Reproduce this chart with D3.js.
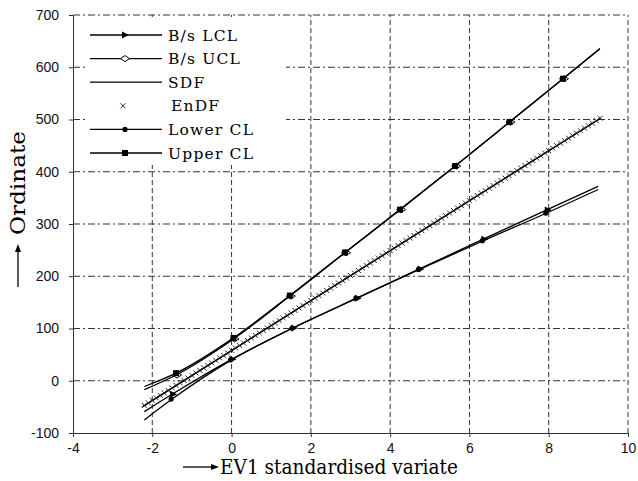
<!DOCTYPE html>
<html><head><meta charset="utf-8">
<script src="https://cdn.jsdelivr.net/npm/d3@7"></script>
<style>body{margin:0;background:#fff}</style>
</head><body>
<svg id="c" width="638" height="481"></svg>
<script>
const xTicks = [-4,-2,0,2,4,6,8,10];
const yTicks = [-100,0,100,200,300,400,500,600,700];

const upperCL  = [[-2.2,-11],[-1.4,14.5],[0.05,82],[1.47,163],[2.86,245.5],[4.25,327.5],[5.64,411],[7.01,495],[8.36,578],[9.29,635]];
const bsUCL    = [[-2.2,-17],[-1.4,11],[0.05,80],[1.47,162],[2.86,245],[4.25,327.5],[5.64,411],[7.01,495],[8.36,578],[9.29,636]];
const sdf      = [[-2.25,-50],[9.3,502]];
const bsLCL    = [[-2.2,-59],[-1.45,-23.5],[0,41],[1.55,101],[3.16,158],[4.74,214],[6.35,271],[7.95,327],[9.25,372]];
const lowerCL  = [[-2.2,-75],[-1.5,-35],[0,40],[1.55,101],[3.16,158],[4.74,213],[6.35,268],[7.95,321],[9.25,366]];
const upperMarkX = [-1.4,0.05,1.47,2.86,4.25,5.64,7.01,8.36];
const lowerMarkX = [-1.5,0,1.55,3.16,4.74,6.35,7.95];
const endfX = [-2.2,-2.1,-2.0,-1.9,-1.8,-1.7,-1.6,-1.5,-1.4,-1.3,-1.2,-1.1,-1.0,-0.9,-0.8,-0.7,-0.6,-0.5,-0.4,-0.3,-0.2,-0.1,0,
 0.1,0.2,0.3,0.4,0.5,0.6,0.7,0.8,0.9,1.0,1.1,1.2,1.3,1.4,1.5,1.6,1.7,1.8,1.9,2.0,2.1,2.2,2.3,2.4,2.5,2.6,2.7,2.8,2.9,3.0,
 3.1,3.2,3.3,3.4,3.5,3.6,3.7,3.8,3.9,4.0,4.1,4.2,4.3,4.4,4.5,4.6,4.7,4.8,4.9,5.0,5.1,5.2,5.3,5.4,5.5,5.6,5.7,5.8,5.9,6.0,
 6.1,6.2,6.3,6.4,6.5,6.6,6.7,6.8,6.9,7.0,7.1,7.2,7.3,7.4,7.5,7.6,7.7,7.8,7.9,8.0,8.1,8.2,8.3,8.4,8.5,8.6,8.7,8.8,8.9,9.0,9.1,9.2,9.3];
const endfY = [-47.2,-42.4,-37.6,-32.8,-28.0,-23.3,-18.5,-13.7,-8.9,-4.1,0.6,5.4,10.2,15.0,19.8,24.5,29.3,34.1,38.9,43.7,48.4,53.2,58.0,
 62.8,67.6,72.3,77.1,81.9,86.7,91.5,96.2,101.0,105.8,110.6,115.4,120.1,124.9,129.7,134.5,139.3,144.0,148.8,153.6,158.4,163.2,167.9,172.7,177.5,182.3,187.1,191.8,196.6,201.4,
 206.2,211.0,215.7,220.5,225.3,230.1,234.9,239.6,244.4,249.2,254.0,258.8,263.5,268.3,273.1,277.9,282.7,287.4,292.2,297.0,301.8,306.6,311.3,316.1,320.9,325.7,330.5,335.2,340.0,344.8,
 349.6,354.4,359.1,363.9,368.7,373.5,378.3,383.0,387.8,392.6,397.4,402.2,406.9,411.7,416.5,421.3,426.1,430.8,435.6,440.4,445.2,450.0,454.7,459.5,464.3,469.1,473.9,478.6,483.4,488.2,493.0,497.8,502.6];
const legendLabels = ["B/s LCL","B/s UCL","SDF","EnDF","Lower CL","Upper CL"];

const svg = d3.select("#c");
const x = d3.scaleLinear([-4,10],[73,628]);
const y = d3.scaleLinear([-100,700],[433,15]);

// grid
const g = svg.append("g");
g.selectAll(".hg").data(yTicks.filter(v=>v>-100)).join("line")
  .attr("x1",x(-4)).attr("x2",x(10)).attr("y1",d=>y(d)).attr("y2",d=>y(d))
  .attr("stroke","#333").attr("stroke-width",1).attr("stroke-dasharray","7,3,2,3");
g.selectAll(".vg").data(xTicks.filter(v=>v>-4)).join("line")
  .attr("y1",y(-100)).attr("y2",y(700)).attr("x1",d=>x(d)).attr("x2",d=>x(d))
  .attr("stroke","#333").attr("stroke-width",1).attr("stroke-dasharray","5,3");

// axes
const ax = svg.append("g").attr("transform",`translate(0,${y(-100)})`)
  .call(d3.axisBottom(x).tickValues(xTicks).tickSize(4).tickFormat(d=>String(d)));
const ay = svg.append("g").attr("transform",`translate(${x(-4)},0)`)
  .call(d3.axisLeft(y).tickValues(yTicks).tickSize(4).tickFormat(d=>String(d)));
[ax,ay].forEach(a=>{
  a.selectAll("text").attr("font-family","Liberation Sans, Arial, sans-serif").attr("font-size",14).attr("fill","#111");
  a.select(".domain").attr("stroke","#333");
  a.selectAll(".tick line").attr("stroke","#333");
});
ax.selectAll("text").attr("dy","0.95em");
ay.selectAll("text").attr("dx","-7");

// lines
const line = d3.line().x(d=>x(d[0])).y(d=>y(d[1])).curve(d3.curveMonotoneX);
const lg = svg.append("g").attr("fill","none").attr("stroke","#000").attr("stroke-width",1.3);
[upperCL,bsUCL,sdf,bsLCL,lowerCL].forEach(s=>lg.append("path").attr("d",line(s)));

function interp(s,xv){for(let i=0;i<s.length-1;i++){if(xv>=s[i][0]&&xv<=s[i+1][0]){const t=(xv-s[i][0])/(s[i+1][0]-s[i][0]);return s[i][1]+t*(s[i+1][1]-s[i][1]);}}return s[s.length-1][1];}

// EnDF crosses
const cross = (sel,cx,cy,r)=>sel.append("path").attr("d",`M${cx-r},${cy-r}L${cx+r},${cy+r}M${cx-r},${cy+r}L${cx+r},${cy-r}`)
  .attr("stroke","#111").attr("stroke-width",0.9).attr("fill","none");
const eg = svg.append("g");
endfX.forEach((xv,i)=>cross(eg,x(xv),y(endfY[i]),2.5));

// markers
const mk = svg.append("g");
function diamond(sel,cx,cy){sel.append("path").attr("d",`M${cx-4.5},${cy}L${cx},${cy-3}L${cx+4.5},${cy}L${cx},${cy+3}Z`).attr("fill","#fff").attr("stroke","#000").attr("stroke-width",1);}
function square(sel,cx,cy){sel.append("rect").attr("x",cx-3).attr("y",cy-3).attr("width",6).attr("height",6).attr("fill","#000");}
function circle(sel,cx,cy){sel.append("circle").attr("cx",cx).attr("cy",cy).attr("r",2.6).attr("fill","#000");}
function tri(sel,cx,cy){sel.append("path").attr("d",`M${cx-3},${cy-3.5}L${cx+4},${cy}L${cx-3},${cy+3.5}Z`).attr("fill","#000");}
upperMarkX.forEach(xv=>{diamond(mk,x(xv)+1,y(interp(bsUCL,xv)));square(mk,x(xv),y(interp(upperCL,xv)));});
lowerMarkX.forEach(xv=>{circle(mk,x(xv)-1,y(interp(lowerCL,xv)));tri(mk,x(xv)+1,y(interp(bsLCL,xv)));});

// legend
const leg = svg.append("g");
leg.append("rect").attr("x",86).attr("y",19).attr("width",200).attr("height",146).attr("fill","#fff");
const ly = i=>35+i*23.6;
legendLabels.forEach((t,i)=>{
  const yy = ly(i);
  if(t!=="EnDF") leg.append("line").attr("x1",90).attr("x2",162).attr("y1",yy).attr("y2",yy).attr("stroke","#000").attr("stroke-width",1.3);
  if(t==="B/s LCL") tri(leg,125,yy);
  if(t==="B/s UCL") diamond(leg,125,yy);
  if(t==="EnDF") cross(leg,123,yy,2.5);
  if(t==="Lower CL") circle(leg,125,yy);
  if(t==="Upper CL") square(leg,125,yy);
  leg.append("text").attr("x",t==="EnDF"?171:168).attr("y",yy+5.5).text(t)
    .attr("font-family","DejaVu Serif, serif").attr("font-size",15.5).attr("letter-spacing",1.2).attr("fill","#000");
});

// axis titles
svg.append("text").attr("transform","translate(25,183) rotate(-90)").attr("text-anchor","middle")
  .attr("font-family","DejaVu Serif, serif").attr("font-size",21).attr("textLength",104).attr("lengthAdjust","spacingAndGlyphs").text("Ordinate");
svg.append("line").attr("x1",18).attr("x2",18).attr("y1",287).attr("y2",250).attr("stroke","#000").attr("stroke-width",1.3);
svg.append("path").attr("d","M18,244L15,252L21,252Z").attr("fill","#000");
svg.append("line").attr("x1",183).attr("x2",212).attr("y1",467).attr("y2",467).attr("stroke","#000").attr("stroke-width",1.3);
svg.append("path").attr("d","M219,467L211,464L211,470Z").attr("fill","#000");
svg.append("text").attr("x",220).attr("y",474).attr("font-family","DejaVu Serif, serif").attr("font-size",20)
  .attr("textLength",238).attr("lengthAdjust","spacingAndGlyphs").text("EV1 standardised variate");
</script>
</body></html>
